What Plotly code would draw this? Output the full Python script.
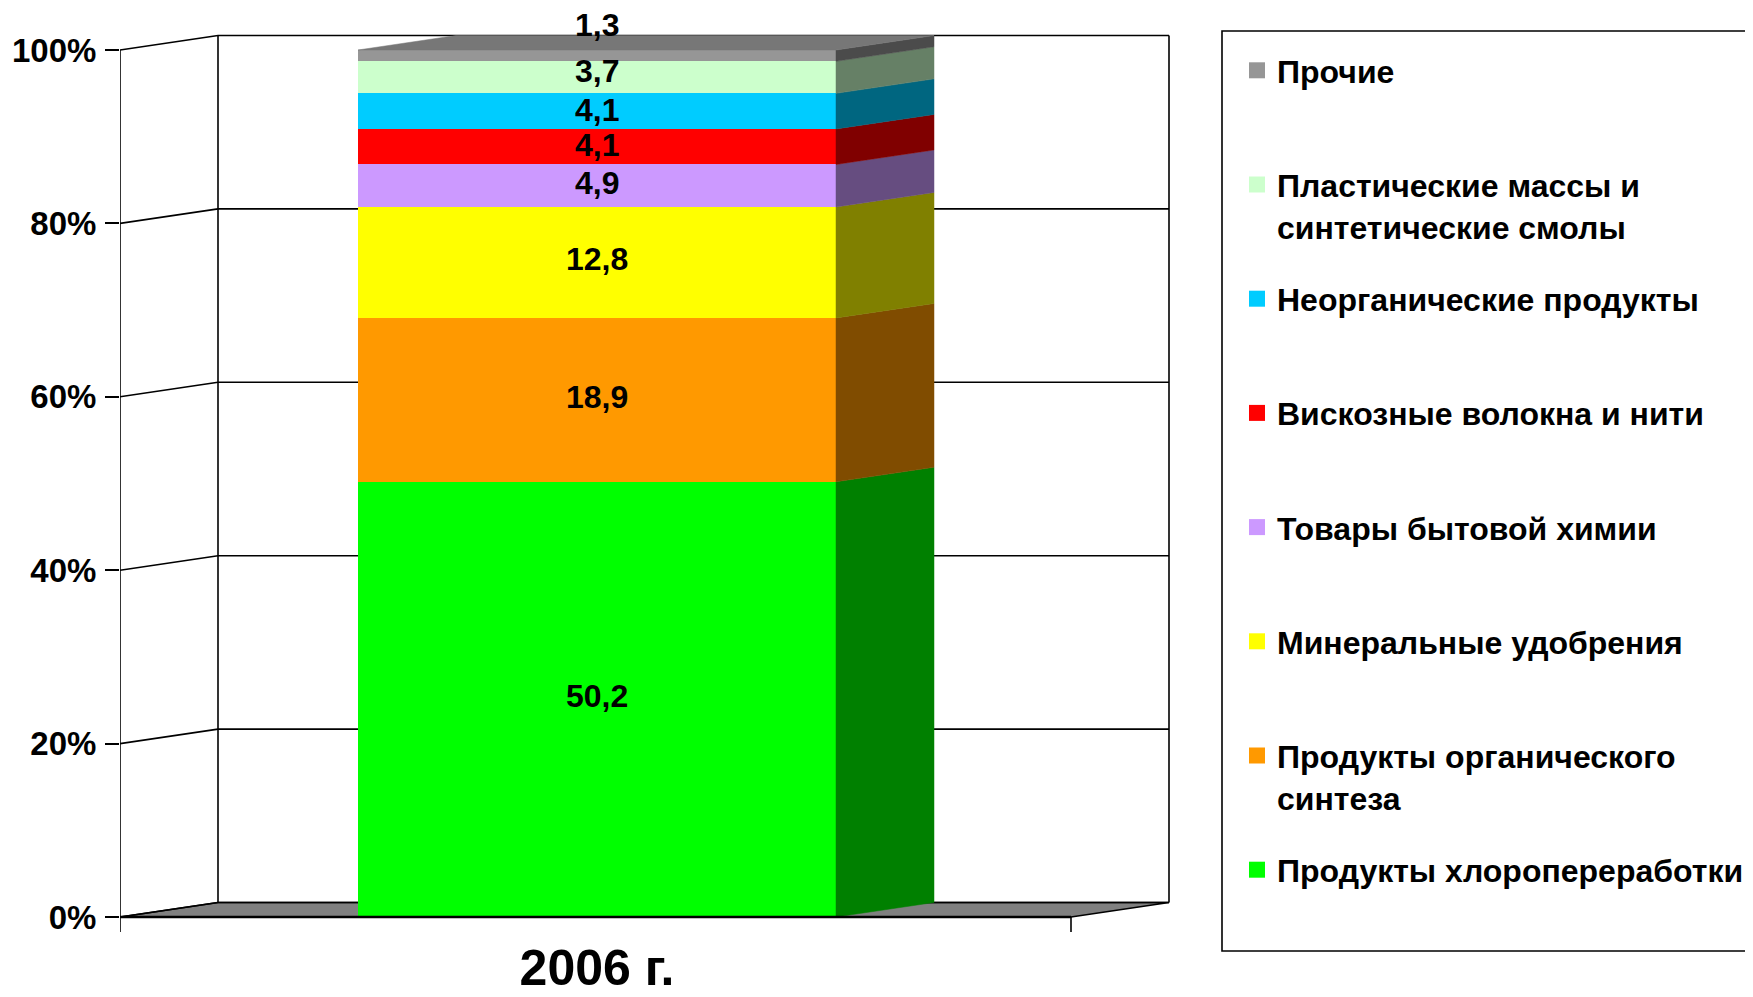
import plotly.graph_objects as go

# ---------------- data ----------------
categories = ["2006 г."]
series_names = [
    "Продукты хлоропереработки",
    "Продукты органического<br>синтеза",
    "Минеральные удобрения",
    "Товары бытовой химии",
    "Вискозные волокна и нити",
    "Неорганические продукты",
    "Пластические массы и<br>синтетические смолы",
    "Прочие",
]
values = [50.2, 18.9, 12.8, 4.9, 4.1, 4.1, 3.7, 1.3]
front_colors = ["#00FF00", "#FF9900", "#FFFF00", "#CC99FF", "#FF0000", "#00CCFF", "#CCFFCC", "#969696"]
side_colors = ["#008000", "#804C00", "#808000", "#664D80", "#800000", "#006680", "#668066", "#4B4B4B"]
top_color = "#777777"
y_ticks = [0, 20, 40, 60, 80, 100]
y_tick_labels = ["0%", "20%", "40%", "60%", "80%", "100%"]

# ---------------- geometry / style ----------------
W, H = 1753, 997
OFF = 8             # page body margin offset of the figure
ML = 120 - OFF      # pixel x of front value axis (figure coords)
PLOT_BOTTOM = 932 - OFF
Y0_PX, Y100_PX = 917 - OFF, 50 - OFF
ppp = (Y0_PX - Y100_PX) / 100.0
y_range = [-(PLOT_BOTTOM - Y0_PX) / ppp, Y0_PX / ppp]
PW = W - ML
x_range = [0, PW]
DX = 98
DY = 14.5 / ppp
FLOOR_W = 951
BAR_X0 = 238
BAR_W = 478
BAR_C = BAR_X0 + BAR_W / 2
FONT = "Liberation Sans, Arial, sans-serif"
LABEL_SHIFTS = [3, 3, 3, 3, 2, 1, 6, 31]   # px, label placement tweaks (style)


def px_to_paper_x(px):
    return (px - OFF - ML) / PW


def px_to_paper_y(py):
    return 1 - (py - OFF) / PLOT_BOTTOM


fig = go.Figure()

shapes = []
LW = 1.6
# floor
shapes.append(dict(type="path", xref="x", yref="y", layer="below",
                   path=f"M0,0 L{FLOOR_W},0 L{FLOOR_W+DX},{DY} L{DX},{DY} Z",
                   fillcolor="#808080", line=dict(color="black", width=LW)))
# back wall gridlines and side wall diagonals
for v in y_ticks:
    shapes.append(dict(type="line", xref="x", yref="y", layer="below",
                       x0=DX, x1=FLOOR_W + DX, y0=v + DY, y1=v + DY,
                       line=dict(color="black", width=LW)))
    shapes.append(dict(type="line", xref="x", yref="y", layer="below",
                       x0=0, x1=DX, y0=v, y1=v + DY,
                       line=dict(color="black", width=LW)))
# back wall verticals
for xv in [DX, FLOOR_W + DX]:
    shapes.append(dict(type="line", xref="x", yref="y", layer="below",
                       x0=xv, x1=xv, y0=DY, y1=100 + DY,
                       line=dict(color="black", width=LW)))
# front value axis line and category ticks
shapes.append(dict(type="line", xref="x", yref="y", layer="above",
                   x0=0, x1=0, y0=y_range[0], y1=100, line=dict(color="black", width=LW)))
shapes.append(dict(type="line", xref="x", yref="y", layer="above",
                   x0=FLOOR_W, x1=FLOOR_W, y0=y_range[0], y1=0, line=dict(color="black", width=LW)))
shapes.append(dict(type="line", xref="x", yref="y", layer="above",
                   x0=0, x1=FLOOR_W, y0=0, y1=0, line=dict(color="black", width=2.5)))
# legend frame (extends past right edge like the reference)
shapes.append(dict(type="rect", xref="paper", yref="paper", layer="above",
                   x0=px_to_paper_x(1222), x1=px_to_paper_x(W + 30),
                   y0=px_to_paper_y(951), y1=px_to_paper_y(31),
                   line=dict(color="black", width=1.6), fillcolor="rgba(0,0,0,0)"))

# front faces: stacked bars
for name, v, c in zip(series_names, values, front_colors):
    fig.add_trace(go.Bar(x=[BAR_C], y=[v], width=[BAR_W], marker=dict(color=c, line=dict(width=0)),
                         showlegend=False, hoverinfo="skip"))

# side faces and top face
cum = 0.0
annotations = []
for i, (v, c) in enumerate(zip(values, side_colors)):
    lo, hi = cum, cum + v
    x1 = BAR_X0 + BAR_W
    fig.add_trace(go.Scatter(
        x=[x1, x1 + DX, x1 + DX, x1, x1], y=[lo, lo + DY, hi + DY, hi, lo],
        mode="lines", fill="toself", fillcolor=c, line=dict(color=c, width=0.5),
        showlegend=False, hoverinfo="skip"))
    label = f"{v:.1f}".replace(".", ",")
    annotations.append(dict(x=BAR_C, y=(lo + hi) / 2, xref="x", yref="y", text=label,
                            showarrow=False, yshift=LABEL_SHIFTS[i],
                            font=dict(family=FONT, size=32, color="black", weight="bold")))
    cum = hi
fig.add_trace(go.Scatter(
    x=[BAR_X0, BAR_X0 + BAR_W, BAR_X0 + BAR_W + DX, BAR_X0 + DX, BAR_X0],
    y=[cum, cum, cum + DY, cum + DY, cum],
    mode="lines", fill="toself", fillcolor=top_color, line=dict(color=top_color, width=0.5),
    showlegend=False, hoverinfo="skip"))

# legend entries (top to bottom)
for i in reversed(range(len(values))):
    nm = series_names[i]
    if "<br>" not in nm:
        nm = nm + "<br>\u00a0"
    fig.add_trace(go.Scatter(x=[None], y=[None], mode="markers", name=nm, legendgroup=str(i),
                             marker=dict(symbol="square", size=17, color=front_colors[i], line=dict(width=0))))

fig.update_layout(
    width=W, height=H,
    margin=dict(l=ML, r=0, t=0, b=H - PLOT_BOTTOM, autoexpand=False),
    paper_bgcolor="white", plot_bgcolor="white",
    barmode="stack", bargap=0,
    shapes=shapes, annotations=annotations,
    font=dict(family=FONT, size=32, color="black", weight="bold"),
    xaxis=dict(range=x_range, tickvals=[BAR_C], ticktext=categories, showgrid=False, zeroline=False,
               showline=False, ticks="", tickfont=dict(size=50, family=FONT, weight="bold"),
               ticklabelstandoff=2, fixedrange=True, automargin=False),
    yaxis=dict(range=y_range, tickvals=y_ticks, ticktext=y_tick_labels, showgrid=False, zeroline=False,
               showline=False, ticks="outside", ticklen=14, tickwidth=1.6, tickcolor="black",
               tickfont=dict(size=33, family=FONT, weight="bold"), ticklabelstandoff=2,
               fixedrange=True, automargin=False),
    legend=dict(x=px_to_paper_x(1237), xanchor="left", y=px_to_paper_y(43), yanchor="top",
                borderwidth=0, bgcolor="rgba(0,0,0,0)",
                traceorder="grouped", tracegroupgap=28, valign="top",
                font=dict(family=FONT, size=32, color="black", weight="bold")),
)

fig.write_html("out.html")
